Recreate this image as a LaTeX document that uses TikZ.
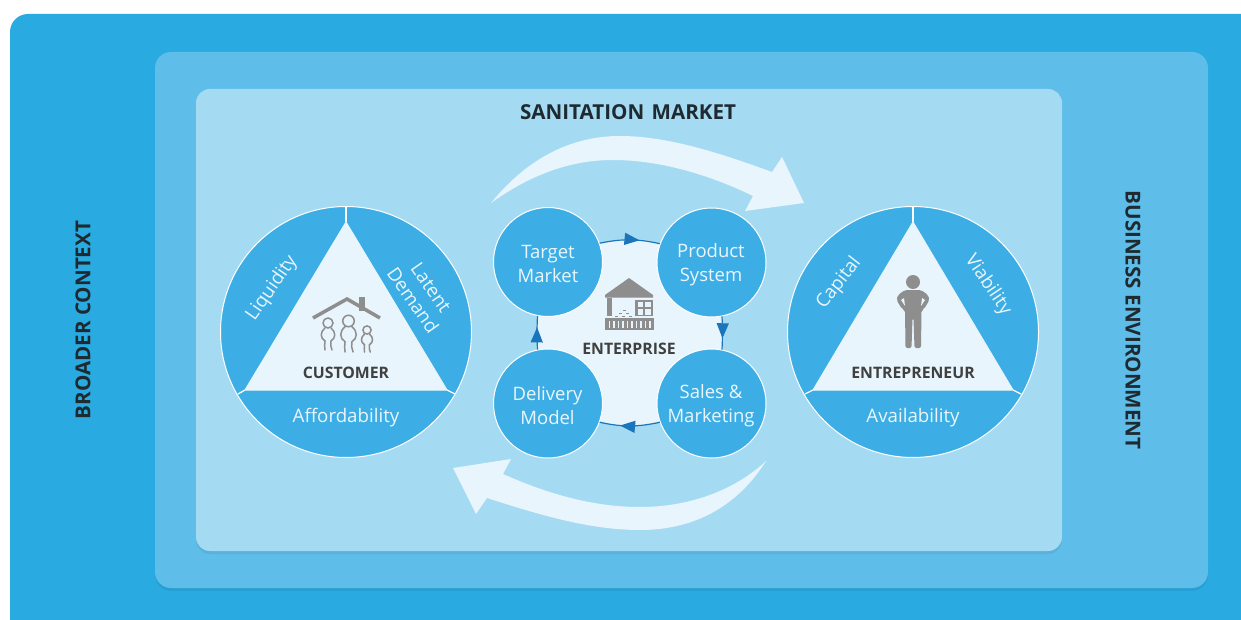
\documentclass[tikz,border=0pt]{standalone}
\usepackage{fontspec}
\setmainfont{Open Sans}
\usetikzlibrary{arrows.meta,decorations.markings}
\definecolor{outerblue}{HTML}{29ABE2}
\definecolor{midblue}{HTML}{5FBDEA}
\definecolor{innerblue}{HTML}{A5DBF2}
\definecolor{circblue}{HTML}{3CAEE5}
\definecolor{pale}{HTML}{E8F5FC}
\definecolor{ringblue}{HTML}{1B75BC}
\definecolor{icongray}{HTML}{8E8E8E}
\definecolor{darktext}{HTML}{404040}
\definecolor{titletext}{HTML}{1E2A30}
\definecolor{softwhite}{HTML}{EAF6FC}
\tikzset{
  x=1pt,y=-1pt,
  stepcircle/.style={circle,draw=white,line width=1pt,fill=circblue,minimum size=109pt,inner sep=0pt},
  steptext/.style={text=softwhite,align=center,font=\fontsize{18.5}{24}\selectfont},
  bigcircle/.style={circle,draw=white,line width=1pt,fill=circblue,minimum size=251pt,inner sep=0pt},
  seglabel/.style={text=softwhite,align=center,font=\fontsize{18.7}{22}\selectfont},
  corelabel/.style={text=darktext,font=\fontsize{15.8}{17}\selectfont\bfseries},
  sidelabel/.style={text=titletext,font=\fontsize{20.6}{22}\selectfont\bfseries},
  sep/.style={draw=white,line width=1.3pt},
  tri/.style={fill=pale,draw=pale,line width=1pt,line join=round},
  ringarc/.style={draw=ringblue,line width=1.2pt,postaction={decorate},
    decoration={markings,mark=at position .66 with {\arrow{Triangle[length=15pt,width=12pt,fill=ringblue]}}}},
  sweep/.style={fill=pale},
  shade/.style={fill=black,opacity=.06},
}
\begin{document}
\begin{tikzpicture}
\useasboundingbox (0,0) rectangle (1241,620);
\fill[white] (0,0) rectangle (1241,620);
% panels
\fill[outerblue,rounded corners=18pt] (10,14) rectangle (1270,650);
\fill[shade,rounded corners=16pt] (155,55) rectangle (1208,591);
\fill[midblue,rounded corners=16pt] (155,52) rectangle (1208,588);
\fill[shade,rounded corners=14pt] (196,92) rectangle (1062,554);
\fill[innerblue,rounded corners=14pt] (196,89) rectangle (1062,551);
% titles
\node[sidelabel] (market) at (628,112) {SANITATION\hspace{2pt} MARKET};
\node[sidelabel,rotate=90] (broader) at (83,320) {BROADER CONTEXT};
\node[sidelabel,rotate=-90] (business) at (1133,320) {BUSINESS ENVIRONMENT};
% sweeping arrows
\fill[sweep] (491,203) .. controls (530,155) and (575,136) .. (620,136) .. controls (670,136) and (725,155) .. (772,172)
  -- (782,157) -- (804,203) -- (745,211) -- (753,196)
  .. controls (710,175) and (660,160) .. (613,160) .. controls (570,160) and (530,175) .. (491,203) -- cycle;
\fill[sweep] (766,461) .. controls (735,510) and (690,530) .. (640,530) .. controls (590,530) and (540,515) .. (487,498)
  -- (476,514) -- (453,468) -- (511,459) -- (503,474)
  .. controls (550,495) and (595,507) .. (640,507) .. controls (690,507) and (735,490) .. (766,461) -- cycle;
% left triangle circle
\node[bigcircle] (custcirc) at (346,332) {};
\draw[sep] (346,207) -- (346,222);
\draw[sep] (238,394) -- (245,390);
\draw[sep] (455,394) -- (447,390);
\filldraw[tri] (346,222) -- (447,390) -- (245,390) -- cycle;
\node[seglabel,rotate=55] (liq) at (272,288) {Liquidity};
\node[seglabel,rotate=-55] (lat) at (422,294) {Latent\\Demand};
\node[seglabel] (aff) at (346,418) {Affordability};
\node[corelabel] (cust) at (346,373) {CUSTOMER};
% house icon
\fill[icongray] (358.5,297) rectangle (364.5,311);
\draw[icongray,line width=3.5pt] (313,318) -- (347,299) -- (380,318);
\foreach \px/\py/\ps in {328/323/1,348.5/321/1.15,367/330/.82}{
  \begin{scope}[shift={(\px,\py)},scale=\ps]
    \draw[icongray,line width=1.5pt] (0,0) circle (5);
    \draw[icongray,line width=1.5pt,line cap=round] (-3,5) .. controls (-8,9) and (-8,15) .. (-3,18) .. controls (-4,21) and (-3,24) .. (-3,27);
    \draw[icongray,line width=1.5pt,line cap=round] (3,5) .. controls (8,9) and (8,15) .. (3,18) .. controls (2,21) and (3,24) .. (4,27);
  \end{scope}}
% right triangle circle
\node[bigcircle] (entcirc) at (913,332) {};
\draw[sep] (913,207) -- (913,222);
\draw[sep] (805,394) -- (813,390);
\draw[sep] (1021,394) -- (1013,390);
\filldraw[tri] (913,222) -- (1013,390) -- (813,390) -- cycle;
\node[seglabel,rotate=52] (cap) at (839,283) {Capital};
\node[seglabel,rotate=-56] (via) at (988,285) {Viability};
\node[seglabel] (avail) at (913,418) {Availability};
\node[corelabel] (entr) at (913,373) {ENTREPRENEUR};
% person icon
\fill[icongray] (913,282) circle (7);
\fill[icongray,rounded corners=2pt] (905,290) -- (921,290) -- (928,295) -- (929.5,300) -- (924,309) -- (921.5,310)
  -- (921,348) -- (914.5,348) -- (913.5,318) -- (912.5,318) -- (911.5,348) -- (905.5,348) -- (905,310) -- (902,309)
  -- (896.5,300) -- (898,295) -- cycle;
\fill[pale] (904,298) -- (905,306) -- (901,300) -- cycle;
\fill[pale] (922,298) -- (921,306) -- (925,300) -- cycle;
% enterprise hub
\node[circle,fill=pale,minimum size=187pt,inner sep=0pt] (hub) at (630,332.5) {};
\node[stepcircle] (target) at (548,262) {};
\node[stepcircle] (product) at (711.5,262.5) {};
\node[stepcircle] (sales) at (711.5,403.5) {};
\node[stepcircle] (delivery) at (548,403.5) {};
\node[steptext] (targett) at (548,263.5) {Target\\Market};
\node[steptext] (productt) at (711,265) {Product\\System};
\node[steptext] (salest) at (711,405.5) {Sales \&\\Marketing};
\node[steptext] (deliveryt) at (547.5,405.5) {Delivery\\Model};
\draw[ringarc] (target.20) to[bend left=12] (product.160);
\draw[ringarc] (product.-79) to[bend left=3] (sales.79);
\draw[ringarc] (sales.-160) to[bend left=12] (delivery.-20);
\draw[ringarc] (delivery.101) to[bend left=3] (target.-101);
\node[corelabel] (ent) at (629,349) {ENTERPRISE};
% hut icon
\fill[icongray] (629,278) -- (653,295) -- (653,297.5) -- (605,297.5) -- (605,295) -- cycle;
\fill[icongray] (607,298) rectangle (612,316);
\fill[icongray] (635,300) rectangle (653,316);
\fill[pale] (637.5,302) rectangle (643,307);
\fill[pale] (645,302) rectangle (651,307);
\fill[pale] (637.5,309) rectangle (643,314.5);
\fill[pale] (645,309) rectangle (651,314.5);
\foreach \dx/\dy in {623/309.5,619/312.5,626/312.5,615/315.5,622/315.5,629/315.5}{\fill[icongray] (\dx,\dy) rectangle +(3,1.6);}
\fill[icongray] (605,318) rectangle (654,330);
\foreach \sx in {608.5,613,617.5,622,626.5,631,635.5,640,644.5,649}{\fill[pale] (\sx,321) rectangle +(1.6,6.5);}
\end{tikzpicture}
\end{document}
